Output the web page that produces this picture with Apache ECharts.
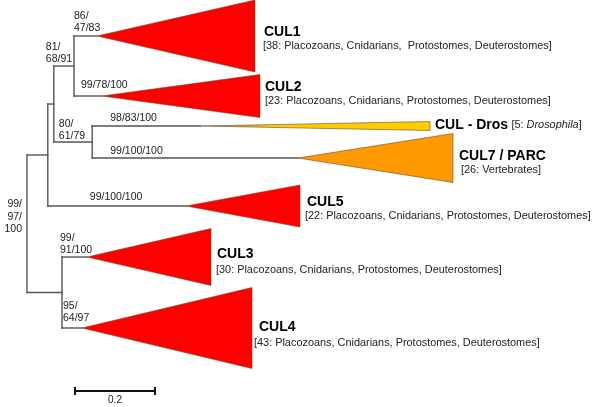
<!DOCTYPE html>
<html><head><meta charset="utf-8">
<script src="https://cdn.jsdelivr.net/npm/echarts@6/dist/echarts.min.js"></script>
<style>html,body{margin:0;padding:0;background:#fff}#c{width:600px;height:407px}</style>
</head><body><div id="c"></div>
<script>
// ---- Tree data (x = distance from root in substitutions/site, y = row position) ----
const nodeNames  = ['root', 'A', 'B', 'C', 'D', 'E'];
const nodeDepth  = [0, 0.052, 0.067, 0.1175, 0.163, 0.0875];
const nodeParent = [null, 'root', 'A', 'B', 'B', 'root'];

const cladeNames  = ['CUL1', 'CUL2', 'CUL - Dros', 'CUL7 / PARC', 'CUL5', 'CUL3', 'CUL4'];
const cladeParent = ['C', 'C', 'D', 'D', 'A', 'E', 'E'];
const cladeRow    = [36, 96, 126, 158, 206, 257, 328];
const cladeStart  = [0.175, 0.1875, 0.4325, 0.6775, 0.3975, 0.15, 0.1375];
const cladeEnd    = [0.57, 0.5825, 1.0075, 1.065, 0.6825, 0.46, 0.5625];
const cladeSpread = [36, 21.5, 4.5, 24.5, 21, 28.5, 40.5];
const cladeSize   = [38, 23, 5, 26, 22, 30, 43];
const cladeTaxa   = [
  'Placozoans, Cnidarians,  Protostomes, Deuterostomes',
  'Placozoans, Cnidarians, Protostomes, Deuterostomes',
  'Drosophila',
  'Vertebrates',
  'Placozoans, Cnidarians, Protostomes, Deuterostomes',
  'Placozoans, Cnidarians, Protostomes, Deuterostomes',
  'Placozoans, Cnidarians, Protostomes, Deuterostomes'
];
const cladeColor  = ['#FF0000', '#FF0000', '#FFCC00', '#FF9900', '#FF0000', '#FF0000', '#FF0000'];

const supportNode = ['CUL1', 'C', 'CUL2', 'CUL - Dros', 'D', 'CUL7 / PARC', 'CUL5', 'root', 'CUL3', 'CUL4'];
const supportText = ['86/\n47/83', '81/\n68/91', '99/78/100', '98/83/100', '80/\n61/79',
                     '99/100/100', '99/100/100', '99/\n97/\n100', '99/\n91/100', '95/\n64/97'];

const scaleBarLength = 0.2;
const scaleBarLabel  = '0.2';

// ---- Layout (pixel offsets for labels) ----
const supportDx    = [0, -8, 7, 18, 5, 18, 42, -5, -2, 1];
const supportDy    = [-1.5, -0.5, -4.5, -1.5, 0.5, -0.5, -2.5, -7, -0.5, -3.5];
const supportAlign = ['left','left','left','left','left','left','left','right','left','left'];
const titleDx = [9, 5, 5, 6, 7, 6, 7];
const titleDy = [-4, -9, -1, -2, -4, -3, -1];
const subDx   = [8, 5, 0, 8, 5, 5, 2];
const subDy   = [10, 5, 0, 12, 10, 13, 15];
const FONT = '"Liberation Sans", Arial, sans-serif';

// ---- Helpers ----
function depthOf(n) {
  const i = nodeNames.indexOf(n);
  if (i >= 0) return nodeDepth[i];
  return cladeStart[cladeNames.indexOf(n)];
}
function parentOf(n) {
  const i = nodeNames.indexOf(n);
  if (i >= 0) return nodeParent[i];
  return cladeParent[cladeNames.indexOf(n)];
}
function kidsOf(n) {
  const k = [];
  nodeNames.forEach((m, i) => { if (nodeParent[i] === n) k.push(m); });
  cladeNames.forEach((m, i) => { if (cladeParent[i] === n) k.push(m); });
  return k;
}
function rowOf(n) {
  const ci = cladeNames.indexOf(n);
  if (ci >= 0) return cladeRow[ci];
  const rows = kidsOf(n).map(rowOf);
  return (Math.min(...rows) + Math.max(...rows)) / 2;
}

// branch segments [x1, y1, x2, y2]
const segs = [];
nodeNames.concat(cladeNames).forEach(n => {
  const p = parentOf(n);
  if (p) segs.push([depthOf(p), rowOf(n), depthOf(n), rowOf(n)]);
});
nodeNames.forEach(n => {
  const rows = kidsOf(n).map(rowOf);
  segs.push([depthOf(n), Math.min(...rows), depthOf(n), Math.max(...rows)]);
});

const wedges = cladeNames.map((n, i) => [cladeStart[i], cladeEnd[i], cladeRow[i], cladeSpread[i], i]);
const supports = supportNode.map((n, i) => {
  const p = parentOf(n);
  return [p ? depthOf(p) : depthOf(n), rowOf(n), i];
});

const chart = echarts.init(document.getElementById('c'), null, {renderer: 'canvas'});
chart.setOption({
  animation: false,
  backgroundColor: '#fff',
  grid: {left: 0, right: 0, top: 0, bottom: 0},
  xAxis: {type: 'value', min: -0.0675, max: 1.4325, show: false},
  yAxis: {type: 'value', min: 0, max: 407, inverse: true, show: false},
  series: [
    {
      type: 'custom', coordinateSystem: 'cartesian2d', data: segs, silent: true,
      renderItem(params, api) {
        const a = api.coord([api.value(0), api.value(1)]);
        const b = api.coord([api.value(2), api.value(3)]);
        return {type: 'line', shape: {x1: a[0], y1: a[1], x2: b[0], y2: b[1]},
                style: {stroke: '#555', lineWidth: 1.4, lineCap: 'square'}};
      }
    },
    {
      type: 'custom', coordinateSystem: 'cartesian2d', data: wedges, silent: true,
      renderItem(params, api) {
        const i = api.value(4);
        const a = api.coord([api.value(0), api.value(2)]);
        const t1 = api.coord([api.value(1), api.value(2) - api.value(3)]);
        const t2 = api.coord([api.value(1), api.value(2) + api.value(3)]);
        let fill = cladeColor[i];
        if (i === 2) {
          fill = new echarts.graphic.LinearGradient(0, 0, 1, 0, [
            {offset: 0, color: '#888'}, {offset: 0.3, color: '#FFCC00'}, {offset: 1, color: '#FFCC00'}]);
        }
        return {type: 'polygon', shape: {points: [a, t1, t2]},
                style: {fill: fill, stroke: '#6b4a2a', lineWidth: 0.6}};
      }
    },
    {
      type: 'custom', coordinateSystem: 'cartesian2d', data: supports, silent: true,
      renderItem(params, api) {
        const i = api.value(2);
        const p = api.coord([api.value(0), api.value(1)]);
        return {type: 'text', style: {
          text: supportText[i], x: p[0] + supportDx[i], y: p[1] + supportDy[i],
          fill: '#1a1a1a', font: '10.5px ' + FONT, align: supportAlign[i],
          verticalAlign: i === 7 ? 'middle' : 'bottom', lineHeight: 12.3}};
      }
    },
    {
      type: 'custom', coordinateSystem: 'cartesian2d', data: wedges, silent: true,
      renderItem(params, api) {
        const i = api.value(4);
        const p = api.coord([api.value(1), api.value(2)]);
        const children = [];
        if (i === 2) {
          children.push({type: 'text', style: {
            text: '{t|' + cladeNames[i] + '} {s|[' + cladeSize[i] + ': }{it|' + cladeTaxa[i] + '}{s|]}',
            x: p[0] + titleDx[i], y: p[1] + titleDy[i], verticalAlign: 'middle', align: 'left',
            rich: {
              t: {fontFamily: FONT, fontWeight: 'bold', fontSize: 14, fill: '#000'},
              s: {fontFamily: FONT, fontSize: 10.9, fill: '#222'},
              it: {fontFamily: FONT, fontSize: 10.9, fontStyle: 'italic', fill: '#222'}
            }}});
        } else {
          children.push({type: 'text', style: {
            text: cladeNames[i], x: p[0] + titleDx[i], y: p[1] + titleDy[i],
            font: 'bold 14px ' + FONT, fill: '#000', verticalAlign: 'middle', align: 'left'}});
          children.push({type: 'text', style: {
            text: '[' + cladeSize[i] + ': ' + cladeTaxa[i] + ']', x: p[0] + subDx[i], y: p[1] + subDy[i],
            font: '10.9px ' + FONT, fill: '#222', verticalAlign: 'middle', align: 'left'}});
        }
        return {type: 'group', children: children};
      }
    },
    {
      type: 'custom', coordinateSystem: 'cartesian2d', data: [[0.12, 391, scaleBarLength]], silent: true,
      renderItem(params, api) {
        const a = api.coord([api.value(0), api.value(1)]);
        const b = api.coord([api.value(0) + api.value(2), api.value(1)]);
        const st = {stroke: '#111', lineWidth: 2};
        return {type: 'group', children: [
          {type: 'line', shape: {x1: a[0], y1: a[1], x2: b[0], y2: b[1]}, style: st},
          {type: 'line', shape: {x1: a[0], y1: a[1] - 4, x2: a[0], y2: a[1] + 4}, style: st},
          {type: 'line', shape: {x1: b[0], y1: b[1] - 4, x2: b[0], y2: b[1] + 4}, style: st},
          {type: 'text', style: {text: scaleBarLabel, x: (a[0] + b[0]) / 2, y: a[1] + 9,
            font: '10px ' + FONT, fill: '#222', align: 'center', verticalAlign: 'middle'}}
        ]};
      }
    }
  ]
});
</script>
</body></html>
